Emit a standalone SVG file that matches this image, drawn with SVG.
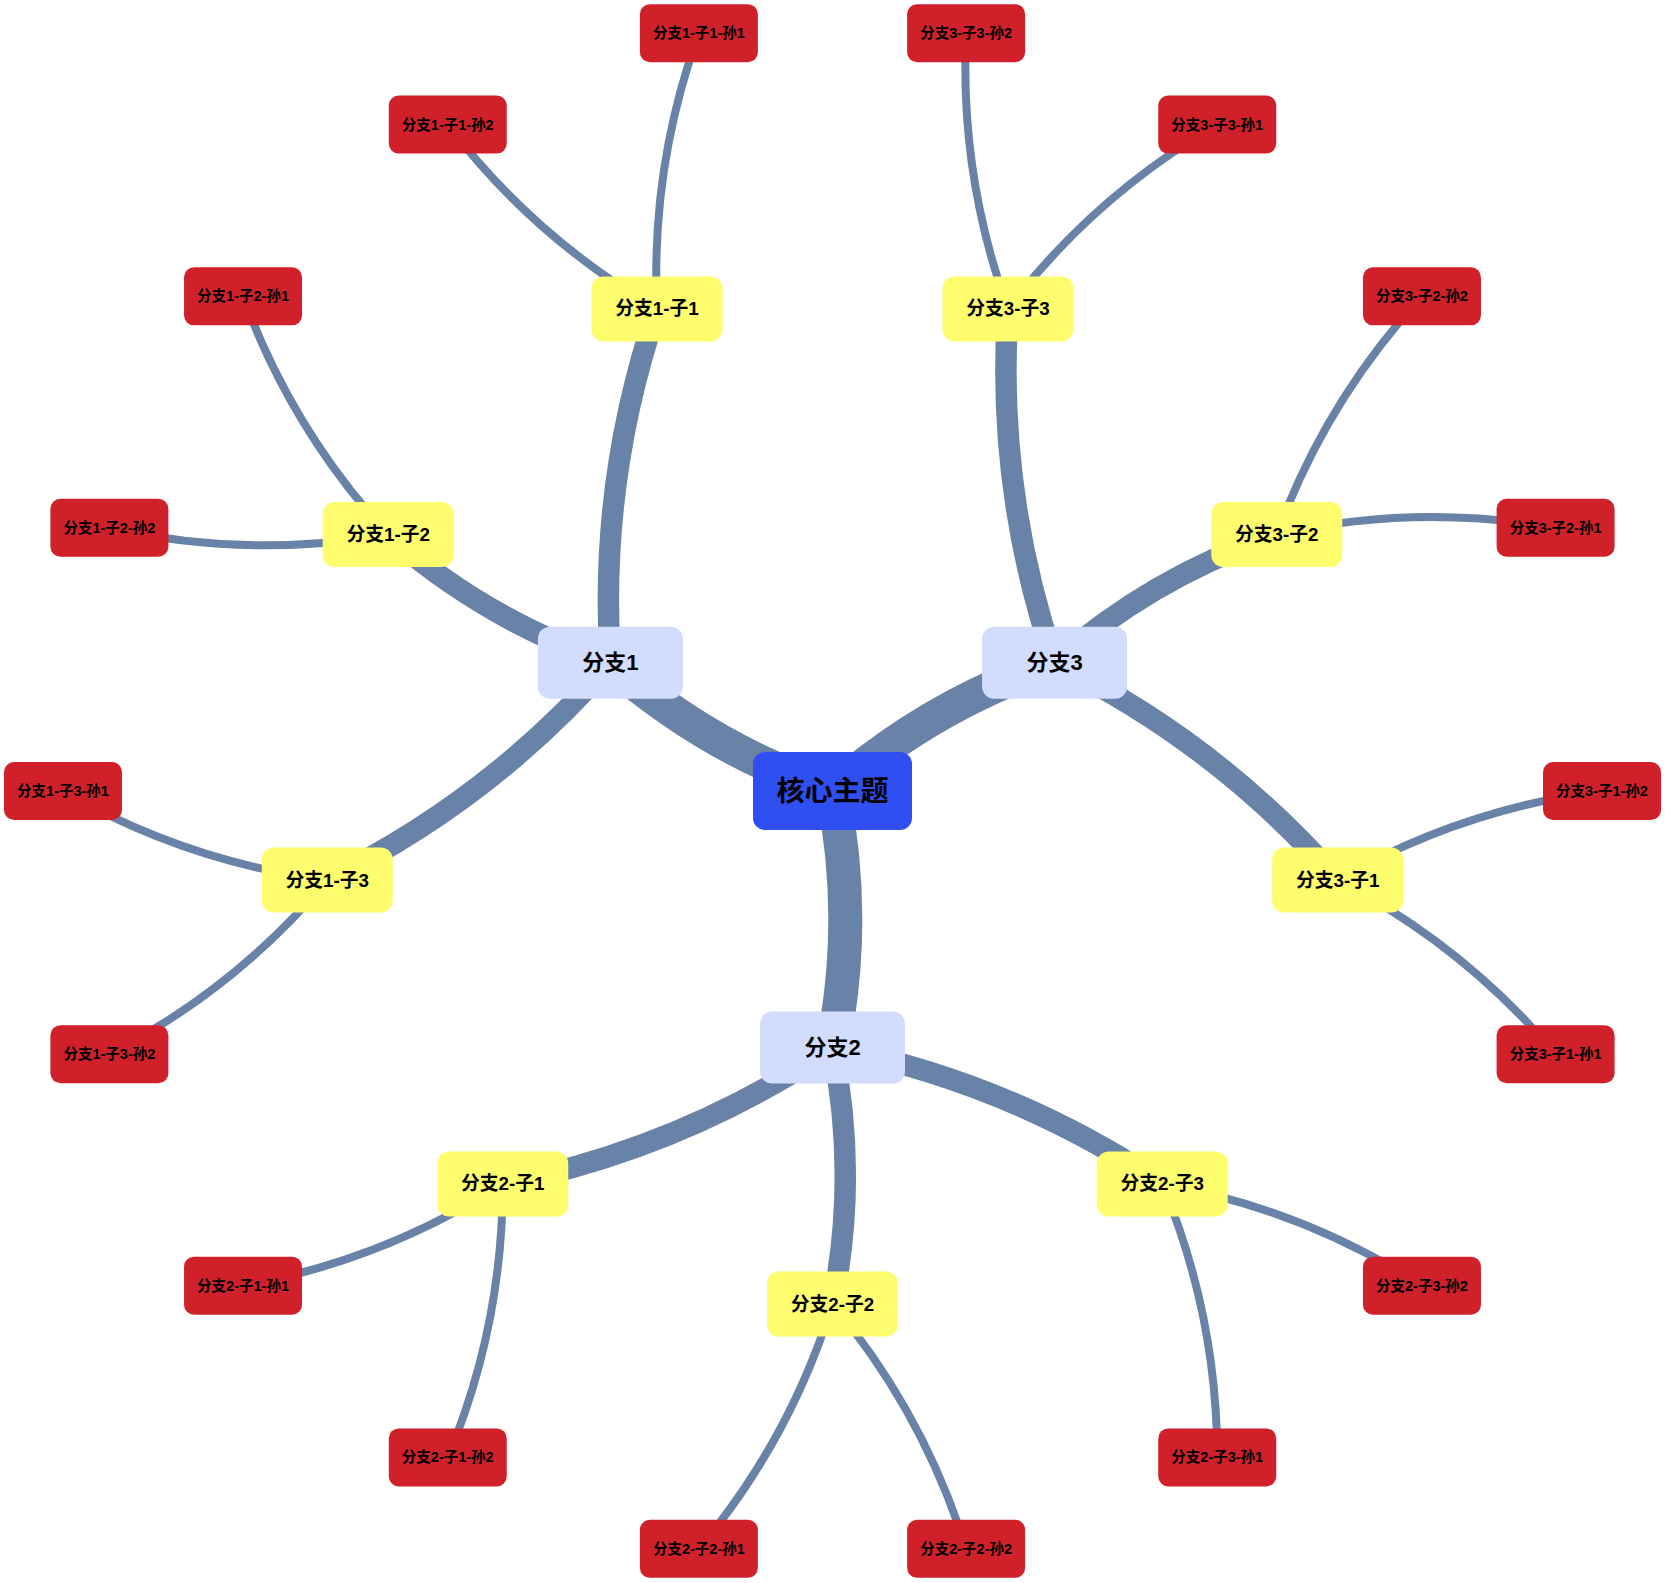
<svg xmlns="http://www.w3.org/2000/svg" width="1667" height="1583" viewBox="0 0 1667 1583">
<style>
.e{fill:none;stroke:#6882a8}
.e0{stroke-width:34}
.e1{stroke-width:21.5}
.e2{stroke-width:8}
text{font-family:"Liberation Sans","Noto Sans CJK SC",sans-serif;font-weight:bold;fill:#000;text-anchor:middle;dominant-baseline:central}
.n0 rect{fill:#2f4ff0}
.n1 rect{fill:#d2dcfc}
.n2 rect{fill:#fdfd6e}
.n3 rect{fill:#d0212b}
.n0 text{font-size:28px}
.n1 text{font-size:22px}
.n2 text{font-size:18.8px}
.n3 text{font-size:14.5px}
</style>
<rect width="1667" height="1583" fill="#fff"/>
<g id="connectors">
<path class="e e0" d="M832.5 791 Q708.63 749.09 610.4 662.75"/>
<path class="e e0" d="M832.5 791 Q858.15 919.25 832.5 1047.5"/>
<path class="e e0" d="M832.5 791 Q930.73 704.67 1054.6 662.75"/>
<path class="e e1" d="M610.4 662.75 Q598.34 481.18 657.04 308.94"/>
<path class="e e1" d="M610.4 662.75 Q486.49 620.84 388.23 534.5"/>
<path class="e e1" d="M610.4 662.75 Q490.59 799.74 327.3 880.1"/>
<path class="e e1" d="M832.5 1047.5 Q681.27 1148.72 502.75 1183.98"/>
<path class="e e1" d="M832.5 1047.5 Q858.15 1175.75 832.5 1304"/>
<path class="e e1" d="M832.5 1047.5 Q1011.02 1082.77 1162.25 1183.98"/>
<path class="e e1" d="M1054.6 662.75 Q1217.89 743.12 1337.7 880.1"/>
<path class="e e1" d="M1054.6 662.75 Q1152.86 576.41 1276.77 534.5"/>
<path class="e e1" d="M1054.6 662.75 Q995.9 490.51 1007.96 308.94"/>
<path class="e e2" d="M657.04 308.94 Q650.39 166.88 698.88 33.19"/>
<path class="e e2" d="M657.04 308.94 Q533.96 237.69 447.75 124.59"/>
<path class="e e2" d="M388.23 534.5 Q291.82 429.96 243.03 296.37"/>
<path class="e e2" d="M388.23 534.5 Q248.15 559.03 109.4 527.8"/>
<path class="e e2" d="M327.3 880.1 Q186.24 861.98 63 791"/>
<path class="e e2" d="M327.3 880.1 Q235.76 988.94 109.4 1054.2"/>
<path class="e e2" d="M502.75 1183.98 Q383.06 1260.78 243.03 1285.63"/>
<path class="e e2" d="M502.75 1183.98 Q502.59 1326.2 447.75 1457.41"/>
<path class="e e2" d="M832.5 1304 Q790.17 1439.77 698.88 1548.81"/>
<path class="e e2" d="M832.5 1304 Q923.79 1413.04 966.12 1548.81"/>
<path class="e e2" d="M1162.25 1183.98 Q1217.09 1315.2 1217.25 1457.41"/>
<path class="e e2" d="M1162.25 1183.98 Q1302.28 1208.83 1421.97 1285.63"/>
<path class="e e2" d="M1337.7 880.1 Q1464.06 945.36 1555.6 1054.2"/>
<path class="e e2" d="M1337.7 880.1 Q1460.94 809.12 1602 791"/>
<path class="e e2" d="M1276.77 534.5 Q1415.52 503.27 1555.6 527.8"/>
<path class="e e2" d="M1276.77 534.5 Q1325.56 400.92 1421.97 296.37"/>
<path class="e e2" d="M1007.96 308.94 Q1094.17 195.84 1217.25 124.59"/>
<path class="e e2" d="M1007.96 308.94 Q959.47 175.25 966.12 33.19"/>
</g>
<g id="root" class="n0"><rect x="753" y="752" width="159" height="78" rx="12"/><text x="832.5" y="791">核心主题</text></g>
<g id="b1" class="n1"><rect x="537.9" y="626.75" width="145" height="72" rx="12"/><text x="610.4" y="662.75">分支1</text></g>
<g id="b2" class="n1"><rect x="760" y="1011.5" width="145" height="72" rx="12"/><text x="832.5" y="1047.5">分支2</text></g>
<g id="b3" class="n1"><rect x="982.1" y="626.75" width="145" height="72" rx="12"/><text x="1054.6" y="662.75">分支3</text></g>
<g id="b1c1" class="n2"><rect x="591.54" y="276.44" width="131" height="65" rx="12"/><text x="657.04" y="308.94">分支1-子1</text></g>
<g id="b1c2" class="n2"><rect x="322.73" y="502" width="131" height="65" rx="12"/><text x="388.23" y="534.5">分支1-子2</text></g>
<g id="b1c3" class="n2"><rect x="261.8" y="847.6" width="131" height="65" rx="12"/><text x="327.3" y="880.1">分支1-子3</text></g>
<g id="b2c1" class="n2"><rect x="437.25" y="1151.48" width="131" height="65" rx="12"/><text x="502.75" y="1183.98">分支2-子1</text></g>
<g id="b2c2" class="n2"><rect x="767" y="1271.5" width="131" height="65" rx="12"/><text x="832.5" y="1304">分支2-子2</text></g>
<g id="b2c3" class="n2"><rect x="1096.75" y="1151.48" width="131" height="65" rx="12"/><text x="1162.25" y="1183.98">分支2-子3</text></g>
<g id="b3c1" class="n2"><rect x="1272.2" y="847.6" width="131" height="65" rx="12"/><text x="1337.7" y="880.1">分支3-子1</text></g>
<g id="b3c2" class="n2"><rect x="1211.27" y="502" width="131" height="65" rx="12"/><text x="1276.77" y="534.5">分支3-子2</text></g>
<g id="b3c3" class="n2"><rect x="942.46" y="276.44" width="131" height="65" rx="12"/><text x="1007.96" y="308.94">分支3-子3</text></g>
<g id="b1c1g1" class="n3"><rect x="639.88" y="4.19" width="118" height="58" rx="10"/><text x="698.88" y="33.19">分支1-子1-孙1</text></g>
<g id="b1c1g2" class="n3"><rect x="388.75" y="95.59" width="118" height="58" rx="10"/><text x="447.75" y="124.59">分支1-子1-孙2</text></g>
<g id="b1c2g1" class="n3"><rect x="184.03" y="267.37" width="118" height="58" rx="10"/><text x="243.03" y="296.37">分支1-子2-孙1</text></g>
<g id="b1c2g2" class="n3"><rect x="50.4" y="498.8" width="118" height="58" rx="10"/><text x="109.4" y="527.8">分支1-子2-孙2</text></g>
<g id="b1c3g1" class="n3"><rect x="4" y="762" width="118" height="58" rx="10"/><text x="63" y="791">分支1-子3-孙1</text></g>
<g id="b1c3g2" class="n3"><rect x="50.4" y="1025.2" width="118" height="58" rx="10"/><text x="109.4" y="1054.2">分支1-子3-孙2</text></g>
<g id="b2c1g1" class="n3"><rect x="184.03" y="1256.63" width="118" height="58" rx="10"/><text x="243.03" y="1285.63">分支2-子1-孙1</text></g>
<g id="b2c1g2" class="n3"><rect x="388.75" y="1428.41" width="118" height="58" rx="10"/><text x="447.75" y="1457.41">分支2-子1-孙2</text></g>
<g id="b2c2g1" class="n3"><rect x="639.88" y="1519.81" width="118" height="58" rx="10"/><text x="698.88" y="1548.81">分支2-子2-孙1</text></g>
<g id="b2c2g2" class="n3"><rect x="907.12" y="1519.81" width="118" height="58" rx="10"/><text x="966.12" y="1548.81">分支2-子2-孙2</text></g>
<g id="b2c3g1" class="n3"><rect x="1158.25" y="1428.41" width="118" height="58" rx="10"/><text x="1217.25" y="1457.41">分支2-子3-孙1</text></g>
<g id="b2c3g2" class="n3"><rect x="1362.97" y="1256.63" width="118" height="58" rx="10"/><text x="1421.97" y="1285.63">分支2-子3-孙2</text></g>
<g id="b3c1g1" class="n3"><rect x="1496.6" y="1025.2" width="118" height="58" rx="10"/><text x="1555.6" y="1054.2">分支3-子1-孙1</text></g>
<g id="b3c1g2" class="n3"><rect x="1543" y="762" width="118" height="58" rx="10"/><text x="1602" y="791">分支3-子1-孙2</text></g>
<g id="b3c2g1" class="n3"><rect x="1496.6" y="498.8" width="118" height="58" rx="10"/><text x="1555.6" y="527.8">分支3-子2-孙1</text></g>
<g id="b3c2g2" class="n3"><rect x="1362.97" y="267.37" width="118" height="58" rx="10"/><text x="1421.97" y="296.37">分支3-子2-孙2</text></g>
<g id="b3c3g1" class="n3"><rect x="1158.25" y="95.59" width="118" height="58" rx="10"/><text x="1217.25" y="124.59">分支3-子3-孙1</text></g>
<g id="b3c3g2" class="n3"><rect x="907.12" y="4.19" width="118" height="58" rx="10"/><text x="966.12" y="33.19">分支3-子3-孙2</text></g>
</svg>
